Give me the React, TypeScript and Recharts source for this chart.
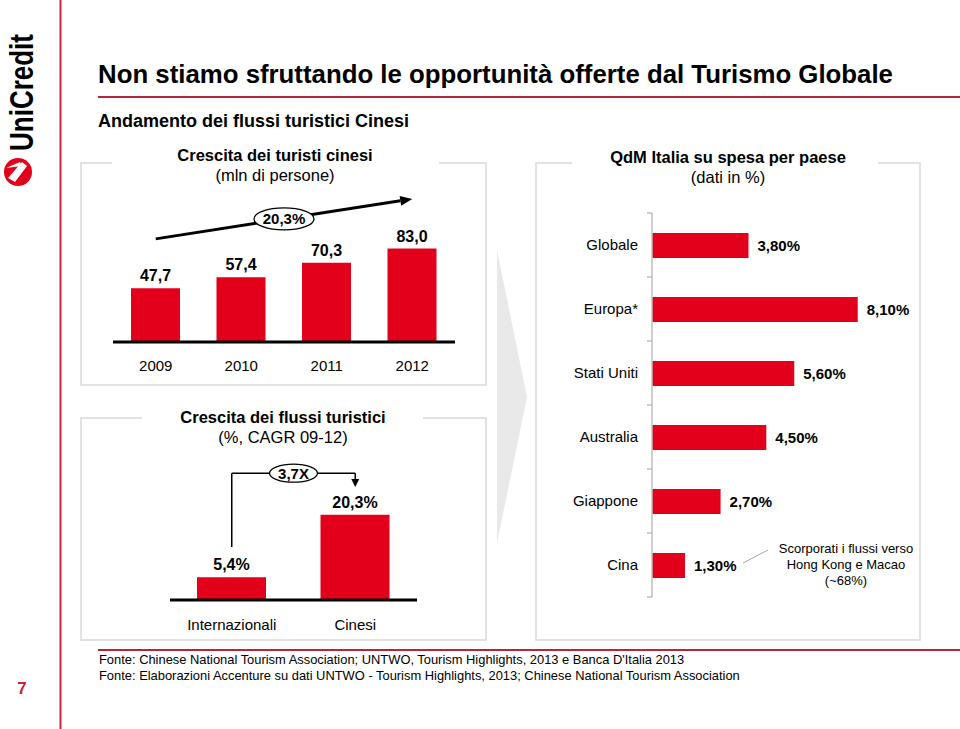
import React from "react";
import { BarChart, Bar, XAxis, YAxis, LabelList, ReferenceLine } from "recharts";

const FONT = '"Liberation Sans", Arial, sans-serif';
const RED = "#e2001a";
const RULE_RED = "#b8243a";
const PANEL_LINE = "#d9d9d9";
const AXIS_GREY = "#bfbfbf";

// Crescita dei turisti cinesi (mln di persone)
const years = ["2009", "2010", "2011", "2012"];
const touristsMln = [47.7, 57.4, 70.3, 83.0];
const touristsCagr = "20,3%";
const trendFrom = 91.6; // start/end height of the growth arrow, in mln
const trendTo = 127;

// Crescita dei flussi turistici (%, CAGR 09-12)
const flowGroups = ["Internazionali", "Cinesi"];
const flowCagr = [5.4, 20.3];
const flowMultiple = "3,7X";
const bracketLevel = 30.2;
const bracketFoot = 12.6;
const bracketTip = 26.9;

// QdM Italia su spesa per paese (dati in %)
const countries = ["Globale", "Europa*", "Stati Uniti", "Australia", "Giappone", "Cina"];
const italyShare = [3.8, 8.1, 5.6, 4.5, 2.7, 1.3];

const comma = (v: number, d: number) => v.toFixed(d).replace(".", ",");

const arrowHead = (x1: number, y1: number, x2: number, y2: number, len: number, half: number) => {
  const a = Math.atan2(y2 - y1, x2 - x1);
  const bx = x2 - len * Math.cos(a);
  const by = y2 - len * Math.sin(a);
  const px = -Math.sin(a) * half;
  const py = Math.cos(a) * half;
  return { bx, by, points: `${x2},${y2} ${bx + px},${by + py} ${bx - px},${by - py}` };
};

const TrendArrow = (p: any) => {
  const { x1, y1, x2, y2 } = p;
  const h = arrowHead(x1, y1, x2, y2, 12, 5);
  const mx = (x1 + x2) / 2;
  const my = (y1 + y2) / 2;
  return (
    <g>
      <line x1={x1} y1={y1} x2={h.bx} y2={h.by} stroke="#000" strokeWidth={3} />
      <polygon points={h.points} fill="#000" />
      <ellipse cx={mx} cy={my} rx={30} ry={11} fill="#fff" stroke="#000" strokeWidth={1.3} />
      <text x={mx} y={my + 5} textAnchor="middle" fontFamily={FONT} fontSize={15} fontWeight="bold">
        {touristsCagr}
      </text>
    </g>
  );
};

const PlainLine = (p: any) => (
  <line x1={p.x1} y1={p.y1} x2={p.x2} y2={p.y2} stroke="#000" strokeWidth={1.5} />
);

const DownArrow = (p: any) => {
  const h = arrowHead(p.x1, p.y1, p.x2, p.y2, 8, 4);
  return (
    <g>
      <line x1={p.x1} y1={p.y1} x2={h.bx} y2={h.by} stroke="#000" strokeWidth={1.5} />
      <polygon points={h.points} fill="#000" />
    </g>
  );
};

const MultipleLine = (p: any) => {
  const mx = (p.x1 + p.x2) / 2;
  const my = (p.y1 + p.y2) / 2;
  return (
    <g>
      <line x1={p.x1} y1={p.y1} x2={p.x2} y2={p.y2} stroke="#000" strokeWidth={1.5} />
      <ellipse cx={mx} cy={my} rx={24} ry={9} fill="#fff" stroke="#000" strokeWidth={1.3} />
      <text x={mx} y={my + 5.5} textAnchor="middle" fontFamily={FONT} fontSize={15} fontWeight="bold">
        {flowMultiple}
      </text>
    </g>
  );
};

const COUNTRY_TICK_MARGIN = 14;

// category label plus a small tick mark on each band boundary
const CountryTick = (p: any) => {
  const { x, y, payload, index } = p;
  const half = payload.offset || 0;
  const ax = x + COUNTRY_TICK_MARGIN;
  const last = index === countries.length - 1;
  return (
    <g>
      <line x1={ax - 5} y1={y - half} x2={ax} y2={y - half} stroke={AXIS_GREY} strokeWidth={1.5} />
      {last && <line x1={ax - 5} y1={y + half} x2={ax} y2={y + half} stroke={AXIS_GREY} strokeWidth={1.5} />}
      <text x={x} y={y + 5} textAnchor="end" fill="#000" fontSize={15} fontFamily={FONT}>
        {payload.value}
      </text>
    </g>
  );
};

function TouristsChart() {
  const data = years.map((year, i) => ({ year, value: touristsMln[i] }));
  return (
    <BarChart width={342} height={202} data={data} margin={{ top: 10, right: 0, left: 0, bottom: 0 }} barSize={49}>
      <XAxis
        dataKey="year"
        height={40}
        interval={0}
        axisLine={{ stroke: "#000", strokeWidth: 3 }}
        tickLine={false}
        tickSize={0}
        tickMargin={18}
        tick={{ fill: "#000", fontSize: 15, fontFamily: FONT }}
      />
      <YAxis hide domain={[0, 135]} />
      <Bar dataKey="value" fill={RED} isAnimationActive={false}>
        <LabelList
          dataKey="value"
          position="top"
          offset={7}
          formatter={(v: any) => comma(Number(v), 1)}
          fill="#000"
          fontSize={16}
          fontWeight="bold"
          fontFamily={FONT}
        />
      </Bar>
      <ReferenceLine
        segment={[{ x: years[0], y: trendFrom }, { x: years[years.length - 1], y: trendTo }]}
        shape={TrendArrow}
        ifOverflow="visible"
      />
    </BarChart>
  );
}

function FlowsChart() {
  const data = flowGroups.map((group, i) => ({ group, value: flowCagr[i] }));
  const [a, b] = flowGroups;
  return (
    <BarChart width={247} height={205} data={data} margin={{ top: 13, right: 0, left: 0, bottom: 0 }} barSize={69}>
      <XAxis
        dataKey="group"
        height={45}
        interval={0}
        axisLine={{ stroke: "#000", strokeWidth: 3 }}
        tickLine={false}
        tickSize={0}
        tickMargin={19}
        tick={{ fill: "#000", fontSize: 15, fontFamily: FONT }}
      />
      <YAxis hide domain={[0, 35]} />
      <Bar dataKey="value" fill={RED} isAnimationActive={false}>
        <LabelList
          dataKey="value"
          position="top"
          offset={7}
          formatter={(v: any) => comma(Number(v), 1) + "%"}
          fill="#000"
          fontSize={16}
          fontWeight="bold"
          fontFamily={FONT}
        />
      </Bar>
      <ReferenceLine segment={[{ x: a, y: bracketFoot }, { x: a, y: bracketLevel }]} shape={PlainLine} ifOverflow="visible" />
      <ReferenceLine segment={[{ x: b, y: bracketLevel }, { x: b, y: bracketTip }]} shape={DownArrow} ifOverflow="visible" />
      <ReferenceLine segment={[{ x: a, y: bracketLevel }, { x: b, y: bracketLevel }]} shape={MultipleLine} ifOverflow="visible" />
    </BarChart>
  );
}

function ShareChart() {
  const data = countries.map((country, i) => ({ country, value: italyShare[i] }));
  return (
    <BarChart
      layout="vertical"
      width={420}
      height={407}
      data={data}
      margin={{ top: 13, right: 50, left: 0, bottom: 10 }}
      barSize={25}
    >
      <XAxis type="number" domain={[0, 10]} hide />
      <YAxis
        type="category"
        dataKey="country"
        width={116}
        interval={0}
        axisLine={{ stroke: AXIS_GREY, strokeWidth: 1.5 }}
        tickLine={false}
        tickSize={0}
        tickMargin={COUNTRY_TICK_MARGIN}
        tick={CountryTick}
      />
      <Bar dataKey="value" fill={RED} isAnimationActive={false}>
        <LabelList
          dataKey="value"
          position="right"
          offset={9}
          formatter={(v: any) => comma(Number(v), 2) + "%"}
          fill="#000"
          fontSize={15}
          fontWeight="bold"
          fontFamily={FONT}
        />
      </Bar>
    </BarChart>
  );
}

const abs = (left: number, top: number): React.CSSProperties => ({ position: "absolute", left, top });

export default function App() {
  return (
    <div
      style={{
        position: "absolute",
        left: 0,
        top: 0,
        width: 960,
        height: 729,
        background: "#fff",
        overflow: "hidden",
        fontFamily: FONT,
      }}
    >
      <svg width={960} height={729} style={abs(0, 0)} fontFamily={FONT}>
        {/* logo */}
        <text
          transform="translate(33,151) rotate(-90)"
          fontSize={33}
          fontWeight="bold"
          fill="#000"
          textLength={117}
          lengthAdjust="spacingAndGlyphs"
        >
          UniCredit
        </text>
        <circle cx={18} cy={172} r={14} fill={RED} />
        <path d="M8,178 L22,162 L27,166 L15,182 Z" fill="#fff" />
        <path d="M6,168 L20,162 L22,166 Z" fill="#fff" />

        <line x1={60.5} y1={0} x2={60.5} y2={729} stroke="#c8243e" strokeWidth={2} />

        <text x={98} y={83} fontSize={25.8} fontWeight="bold" fill="#000">
          Non stiamo sfruttando le opportunità offerte dal Turismo Globale
        </text>
        <line x1={98} y1={97} x2={960} y2={97} stroke={RULE_RED} strokeWidth={2} />
        <text x={98} y={127} fontSize={18} fontWeight="bold" fill="#000">
          Andamento dei flussi turistici Cinesi
        </text>

        {/* panels */}
        <path d="M112,163 H81 V385 H486 V163 H439" fill="none" stroke={PANEL_LINE} strokeWidth={1.5} />
        <path d="M142,418 H81 V640 H486 V418 H423" fill="none" stroke={PANEL_LINE} strokeWidth={1.5} />
        <path d="M572,163 H536 V640 H920 V163 H878" fill="none" stroke={PANEL_LINE} strokeWidth={1.5} />
        <polygon points="497,250 527,397 497,543" fill="#e9e9e9" />

        <g textAnchor="middle" fill="#000" fontSize={16.5}>
          <text x={275} y={161} fontWeight="bold">Crescita dei turisti cinesi</text>
          <text x={275} y={181}>(mln di persone)</text>
          <text x={283} y={423} fontWeight="bold">Crescita dei flussi turistici</text>
          <text x={283} y={443}>(%, CAGR 09-12)</text>
          <text x={728} y={163} fontWeight="bold">QdM Italia su spesa per paese</text>
          <text x={728} y={183}>(dati in %)</text>
        </g>

        {/* note on Cina */}
        <line x1={743} y1={563} x2={768} y2={550} stroke="#a6a6a6" strokeWidth={1} />
        <g textAnchor="middle" fill="#000" fontSize={13}>
          <text x={846} y={553}>Scorporati i flussi verso</text>
          <text x={846} y={569}>Hong Kong e Macao</text>
          <text x={846} y={585}>(~68%)</text>
        </g>

        {/* footer */}
        <line x1={98} y1={650} x2={960} y2={650} stroke={RULE_RED} strokeWidth={2} />
        <g fill="#000" fontSize={12.9}>
          <text x={99} y={664}>
            Fonte: Chinese National Tourism Association; UNTWO, Tourism Highlights, 2013 e Banca D'Italia 2013
          </text>
          <text x={99} y={680}>
            Fonte: Elaborazioni Accenture su dati UNTWO - Tourism Highlights, 2013; Chinese National Tourism Association
          </text>
        </g>
        <text x={22} y={694} textAnchor="middle" fontSize={17} fontWeight="bold" fill="#c8243e">
          7
        </text>
      </svg>

      <div style={abs(113, 180)}>
        <TouristsChart />
      </div>
      <div style={abs(170, 440)}>
        <FlowsChart />
      </div>
      <div style={abs(536, 200)}>
        <ShareChart />
      </div>
    </div>
  );
}
